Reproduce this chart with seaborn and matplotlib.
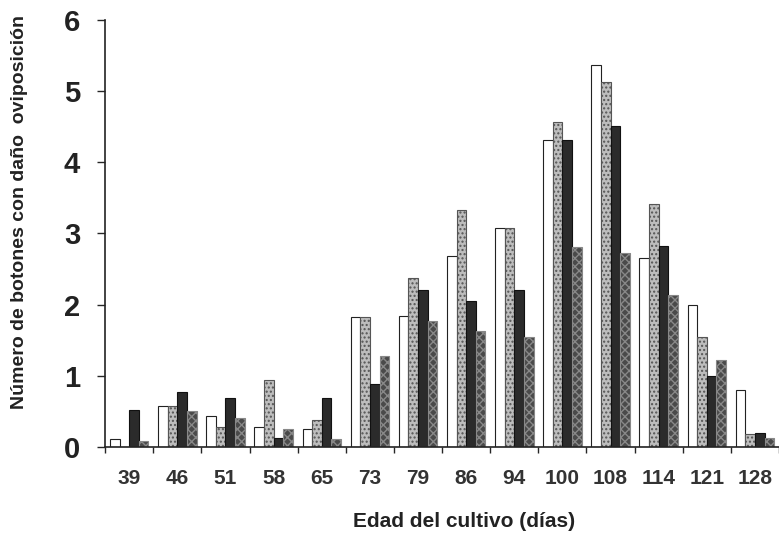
import pandas as pd
import seaborn as sns
import matplotlib.pyplot as plt

# edad del cultivo (dias)
dias = ["39", "46", "51", "58", "65", "73", "79", "86", "94", "100", "108", "114", "121", "128"]

# numero de botones con dano por oviposicion, una lista por serie
serie_1 = [0.11, 0.57, 0.43, 0.28, 0.25, 1.83, 1.84, 2.68, 3.08, 4.31, 5.36, 2.65, 1.99, 0.80]
serie_2 = [0.00, 0.57, 0.28, 0.94, 0.38, 1.83, 2.38, 3.33, 3.08, 4.57, 5.12, 3.41, 1.55, 0.18]
serie_3 = [0.52, 0.77, 0.69, 0.13, 0.69, 0.88, 2.20, 2.05, 2.20, 4.31, 4.51, 2.82, 1.00, 0.20]
serie_4 = [0.08, 0.50, 0.41, 0.25, 0.11, 1.28, 1.77, 1.63, 1.54, 2.81, 2.73, 2.13, 1.22, 0.12]

series = ["S1", "S2", "S3", "S4"]

rows = []
for nombre, vals in zip(series, [serie_1, serie_2, serie_3, serie_4]):
    for d, v in zip(dias, vals):
        rows.append({"dias": d, "valor": v, "serie": nombre})
data = pd.DataFrame(rows)

sns.set_style("ticks")
plt.rcParams['font.family'] = ['Liberation Sans', 'DejaVu Sans']

fig = plt.figure(figsize=(7.79, 5.36), dpi=100)
ax = fig.add_axes([0.135, 0.166, 0.865, 0.797])

colores = ["white", "#bdbdbd", "#2b2b2b", "#4a4a4a"]
sns.barplot(data=data, x="dias", y="valor", hue="serie", palette=colores,
            order=dias, hue_order=series, width=0.8, gap=0, legend=False,
            edgecolor="black", linewidth=0.8, ax=ax)

#patterns for gray and hatched bars
hatches = [None, "....", None, "xxxx"]
edges = ["#222222", "#555555", "#111111", "#888888"]
for cont, h, ec in zip(ax.containers, hatches, edges):
    for bar in cont:
        if h:
            bar.set_hatch(h)
        bar.set_edgecolor(ec)

ax.set_ylim(0, 6)
ax.set_xlim(-0.5, 13.4)
ax.set_yticks(range(0, 7))
ax.set_yticklabels([str(i) for i in range(0, 7)], fontsize=21, fontweight="bold", color="#222222")

ax.set_xticks(range(len(dias)))
ax.set_xticklabels(dias, fontsize=15, fontweight="bold", color="#333333")
ax.set_xticks([i - 0.5 for i in range(len(dias) + 1)], minor=True)
ax.tick_params(axis="x", which="major", length=0, pad=16)
ax.tick_params(axis="x", which="minor", length=4, width=1, direction="out")
ax.tick_params(axis="y", length=6, width=1, direction="out", pad=12)

ax.set_xlabel("Edad del cultivo (días)", fontsize=15, fontweight="bold", color="#222222")
ax.set_ylabel("Número de botones con daño  oviposición", fontsize=14, fontweight="bold", color="#222222")
ax.xaxis.set_label_coords(0.532, -0.152)
ax.yaxis.set_label_coords(-0.114, 0.55)

sns.despine(ax=ax, top=True, right=True)
for s in ["left", "bottom"]:
    ax.spines[s].set_linewidth(1.2)
    ax.spines[s].set_color("#222222")

fig.savefig("out.png", dpi=100)
